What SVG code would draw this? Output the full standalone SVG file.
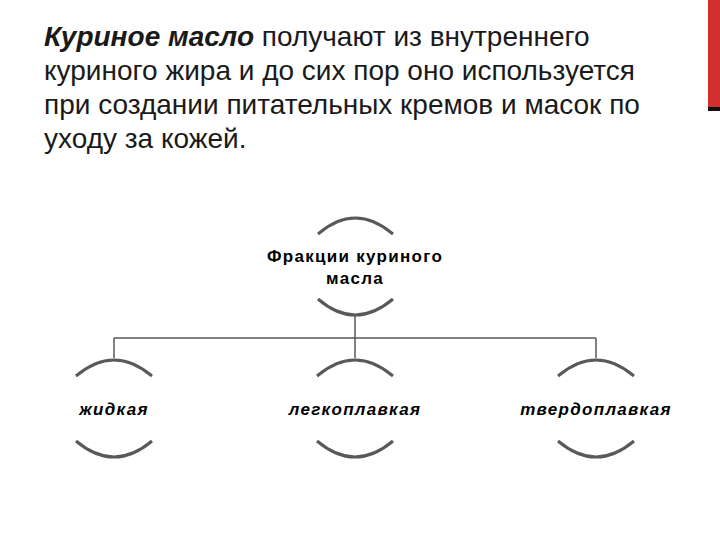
<svg xmlns="http://www.w3.org/2000/svg" width="720" height="540" viewBox="0 0 720 540">
<style>
.t{font-family:"Liberation Sans",Arial,sans-serif;font-size:28px;fill:#1a1a1a}
.a{fill:none;stroke:#595959;stroke-width:3}
.c{fill:none;stroke:#595959;stroke-width:1.5}
.n{font-family:"Liberation Sans",Arial,sans-serif;font-size:17px;letter-spacing:1.3px;fill:#000;text-anchor:middle}
</style>
<rect width="720" height="540" fill="#fff"/>
<rect x="708" y="0" width="12" height="107" fill="#d32f2f"/>
<rect x="708" y="107" width="12" height="4" fill="#111"/>
<text class="t" x="44" y="46"><tspan font-weight="bold" font-style="italic">Куриное масло</tspan> получают из внутреннего</text>
<text class="t" x="44" y="80">куриного жира и до сих пор оно используется</text>
<text class="t" x="44" y="114">при создании питательных кремов и масок по</text>
<text class="t" x="44" y="148">уходу за кожей.</text>
<g id="connectors">
<path class="c" d="M355 316V338M114 338H596M114 338V358M355 338V358M596 338V358"/>
</g>
<g id="root">
<path class="a" d="M318 234Q355 202 393 234"/>
<path class="a" d="M318 299Q355 331 393 299"/>
<text class="n" font-weight="bold" x="355" y="262">Фракции куриного</text>
<text class="n" font-weight="bold" x="355" y="284">масла</text>
</g>
<g id="n1">
<path class="a" d="M76 376Q114 344 152 376"/>
<path class="a" d="M76 441Q114 473 152 441"/>
<text class="n" font-weight="bold" font-style="italic" x="114" y="415">жидкая</text>
</g>
<g id="n2">
<path class="a" d="M317 376Q355 344 393 376"/>
<path class="a" d="M317 441Q355 473 393 441"/>
<text class="n" font-weight="bold" font-style="italic" x="355" y="415">легкоплавкая</text>
</g>
<g id="n3">
<path class="a" d="M558 376Q596 344 634 376"/>
<path class="a" d="M558 441Q596 473 634 441"/>
<text class="n" font-weight="bold" font-style="italic" x="596" y="415">твердоплавкая</text>
</g>
</svg>
